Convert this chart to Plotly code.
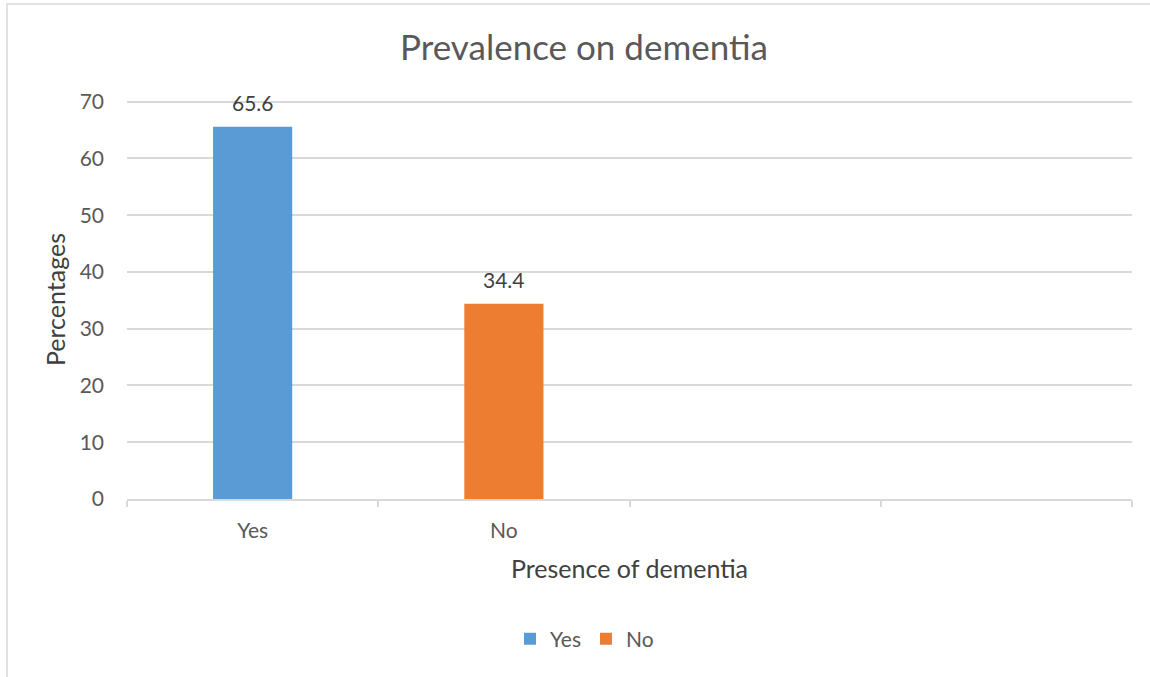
import plotly.graph_objects as go

categories = ["Yes", "No", " ", "  "]
series_names = ["Yes", "No"]
yes_values = [65.6, None, None, None]
no_values = [None, 34.4, None, None]
y_ticks = [0, 10, 20, 30, 40, 50, 60, 70]

colors = {"Yes": "#5B9BD5", "No": "#ED7D31"}
FONT = "Lato"
TXT = "#595959"

fig = go.Figure()
annotations = []
for name, vals in zip(series_names, [yes_values, no_values]):
    fig.add_trace(go.Bar(
        x=categories, y=vals, name=name,
        marker=dict(color=colors[name], line=dict(width=0)),
        width=0.315,
    ))
    for c, v in zip(categories, vals):
        if v is not None:
            annotations.append(dict(
                x=c, y=v, xref="x", yref="y", text="%.1f" % v,
                showarrow=False, yanchor="bottom", yshift=10,
                font=dict(family=FONT, size=21, color="#404040")))

W, H = 1150, 677
L, R, T, B = 127, 18, 100, 178
pw, ph = W - L - R, H - T - B
y0 = 499  # pixel row of the zero line

fig.update_layout(
    width=W, height=H,
    margin=dict(l=L, r=R, t=T, b=B, pad=0, autoexpand=False),
    barmode="overlay",
    paper_bgcolor="white", plot_bgcolor="white",
    font=dict(family=FONT, color=TXT),
    title=dict(text="Prevalence on dementia", x=584 / W, xanchor="center",
               y=1 - 48 / H, yanchor="middle",
               font=dict(family=FONT, size=35, color=TXT)),
    showlegend=True,
    legend=dict(orientation="h", x=(584.5 - L) / pw, xanchor="center",
                y=(y0 - 639) / ph, yanchor="middle",
                font=dict(family=FONT, size=21, color=TXT),
                traceorder="normal"),
    annotations=annotations,
    xaxis=dict(
        type="category", categoryorder="array", categoryarray=categories,
        range=[-0.5, 3.5],
        showgrid=False, showline=True, linecolor="#d9d9d9", linewidth=1.5,
        ticks="outside", tickson="boundaries", ticklen=6, tickcolor="#d9d9d9", tickwidth=1.5,
        tickfont=dict(family=FONT, size=21, color=TXT),
        ticklabelstandoff=12,
        title=dict(text="Presence of dementia", standoff=20,
                   font=dict(family=FONT, size=25, color="#404040")),
        zeroline=False,
    ),
    yaxis=dict(
        range=[0, 70.3], tickvals=y_ticks,
        showgrid=True, gridcolor="#d9d9d9", gridwidth=1.5,
        showline=False, zeroline=False, ticks="",
        tickfont=dict(family=FONT, size=21, color=TXT),
        ticklabelstandoff=22,
        title=dict(text="Percentages", standoff=6,
                   font=dict(family=FONT, size=25, color="#404040")),
    ),
    shapes=[dict(type="rect", xref="paper", yref="paper",
                 x0=(7 - L) / pw, x1=(1300 - L) / pw,
                 y0=-900 / ph, y1=1 + (T - 4) / ph,
                 line=dict(color="#d9d9d9", width=1.5), layer="below")],
)

fig.write_html("out.html", config={"displayModeBar": False},
               post_script="document.body.style.margin='0px';document.body.style.overflow='hidden';")
